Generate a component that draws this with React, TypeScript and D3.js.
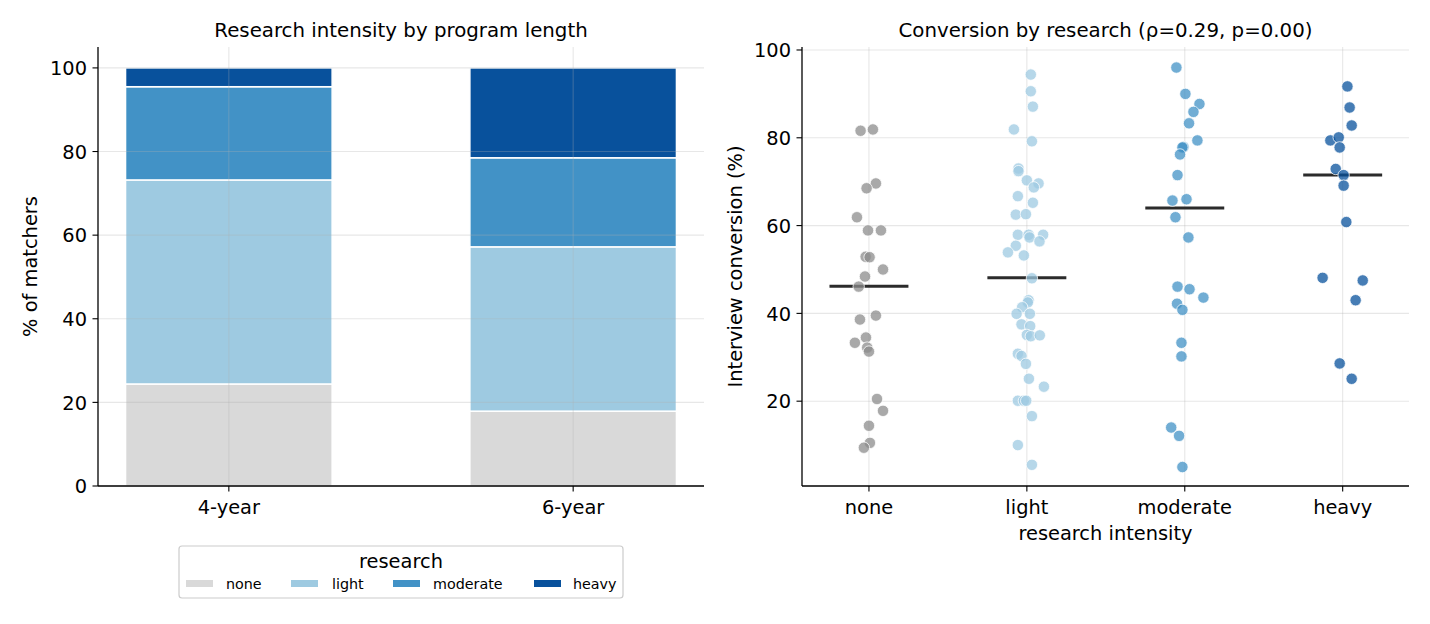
import React from "react";
import * as d3 from "d3";

const programs = ["4-year", "6-year"];
const levels = ["none", "light", "moderate", "heavy"];
const share4yr = [24.4, 48.8, 22.3, 4.5];
const share6yr = [17.9, 39.3, 21.3, 21.5];
const barColors = ["#d9d9d9", "#9ecae1", "#4292c6", "#08519c"];
const pointColors = ["#8c8c8c", "#9ecae1", "#4292c6", "#08519c"];

const noneConv = [81.6, 81.9, 69.6, 68.5, 61.9, 58.9, 58.9, 52.9, 52.8, 50.0, 48.4, 46.1, 39.5, 38.6, 34.5, 33.3, 32.2, 31.3, 20.5, 17.8, 14.4, 10.5, 9.4];
const noneJit = [-0.053, 0.025, 0.044, -0.015, -0.076, -0.006, 0.076, -0.021, 0.004, 0.089, -0.025, -0.065, 0.044, -0.057, -0.019, -0.089, -0.011, 0, 0.051, 0.089, 0, 0.006, -0.032];
const lightConv = [94.4, 90.6, 87.1, 81.9, 79.2, 73.0, 72.4, 70.3, 69.6, 68.7, 66.7, 65.2, 62.5, 62.6, 57.9, 57.9, 57.9, 57.3, 56.4, 55.4, 53.9, 53.2, 48.0, 43.0, 42.5, 41.4, 39.9, 39.9, 37.5, 37.1, 35.1, 34.8, 35.0, 30.8, 30.3, 28.5, 25.1, 23.3, 20.1, 20.1, 20.1, 16.6, 10.0, 5.5];
const lightJit = [0.025, 0.025, 0.038, -0.082, 0.032, -0.053, -0.053, 0, 0.074, 0.044, -0.057, 0.038, -0.07, -0.006, -0.057, 0.011, 0.103, 0.017, 0.08, -0.07, -0.12, -0.019, 0.032, 0.011, 0.006, -0.03, -0.065, 0.019, -0.034, 0.021, 0, 0.025, 0.082, -0.057, -0.034, -0.006, 0.013, 0.108, -0.057, -0.019, -0.004, 0.032, -0.057, 0.032];
const moderateConv = [96.0, 90.0, 87.7, 85.9, 83.3, 79.4, 77.9, 77.8, 76.2, 71.5, 66.0, 65.7, 61.9, 57.3, 46.1, 45.5, 43.6, 42.2, 40.8, 33.3, 30.2, 14.0, 12.1, 5.0];
const moderateJit = [-0.053, 0.004, 0.093, 0.055, 0.027, 0.08, -0.008, -0.015, -0.03, -0.046, 0.011, -0.078, -0.059, 0.023, -0.046, 0.03, 0.118, -0.049, -0.015, -0.021, -0.021, -0.086, -0.036, -0.015];
const heavyConv = [91.7, 86.9, 82.8, 79.4, 80.1, 77.8, 72.9, 71.5, 69.1, 60.8, 48.1, 47.5, 43.0, 28.6, 25.1];
const heavyJit = [0.03, 0.044, 0.057, -0.078, -0.025, -0.019, -0.044, 0.006, 0.006, 0.023, -0.127, 0.127, 0.082, -0.019, 0.057];
const medians = [46.2, 48.1, 64.0, 71.5];

const leftTicks = [0, 20, 40, 60, 80, 100];
const rightTicks = [20, 40, 60, 80, 100];

const FONT = "DejaVu Sans, sans-serif";
const TICK_FS = 19.4;
const TITLE_FS = 19.8;

export default function App() {
  const W = 1430, H = 624;
  const L = { x0: 98, x1: 704, y0: 47, y1: 486 };
  const R = { x0: 802, x1: 1409, y0: 47, y1: 486 };

  const lx = d3.scaleLinear().domain([-0.38, 1.38]).range([L.x0, L.x1]);
  const ly = d3.scaleLinear().domain([0, 105]).range([L.y1, L.y0]);
  const barW = lx(0.6) - lx(0);

  const table = programs.map((p, i) => {
    const row: any = { program: p };
    levels.forEach((lv, j) => (row[lv] = (i === 0 ? share4yr : share6yr)[j]));
    return row;
  });
  const stacked = d3.stack().keys(levels)(table as any);

  const rx = d3.scaleLinear().domain([-0.424, 3.42]).range([R.x0, R.x1]);
  const ry = d3.scaleLinear().domain([0.68, 100.68]).range([R.y1, R.y0]);

  const convs = [noneConv, lightConv, moderateConv, heavyConv];
  const jits = [noneJit, lightJit, moderateJit, heavyJit];

  const gridStroke = "#b0b0b0";
  const gridOp = 0.3;

  const legendX = 179, legendY = 546, legendW = 444, legendH = 52;
  const legendItems = [
    { px: 186, tx: 226 },
    { px: 291, tx: 332 },
    { px: 393, tx: 433 },
    { px: 534, tx: 573 },
  ];

  return (
    <svg width={W} height={H} style={{ position: "absolute", left: 0, top: 0, background: "#fff" }} fontFamily={FONT}>
      <rect x={0} y={0} width={W} height={H} fill="#fff" />
      {/* LEFT PANEL */}
      <text x={(L.x0 + L.x1) / 2} y={37} textAnchor="middle" fontSize={TITLE_FS} fill="#000">
        Research intensity by program length
      </text>
      {stacked.map((layer, li) => (
        <g key={levels[li]}>
          {layer.map((d, i) => (
            <rect
              key={i}
              x={lx(i) - barW / 2}
              y={ly(d[1])}
              width={barW}
              height={ly(d[0]) - ly(d[1])}
              fill={barColors[li]}
              stroke="#fff"
              strokeWidth={1.5}
            />
          ))}
        </g>
      ))}
      {leftTicks.map((t) => (
        <line key={"lg" + t} x1={L.x0} x2={L.x1} y1={ly(t)} y2={ly(t)} stroke={gridStroke} strokeOpacity={gridOp} strokeWidth={1.1} />
      ))}
      {programs.map((p, i) => (
        <line key={"lgx" + p} x1={lx(i)} x2={lx(i)} y1={L.y0} y2={L.y1} stroke={gridStroke} strokeOpacity={gridOp} strokeWidth={1.1} />
      ))}
      <line x1={L.x0} x2={L.x0} y1={L.y0} y2={L.y1} stroke="#000" strokeWidth={1.3} />
      <line x1={L.x0} x2={L.x1} y1={L.y1} y2={L.y1} stroke="#000" strokeWidth={1.3} />
      {leftTicks.map((t) => (
        <g key={"lt" + t}>
          <line x1={L.x0 - 5.5} x2={L.x0} y1={ly(t)} y2={ly(t)} stroke="#000" strokeWidth={1.1} />
          <text x={L.x0 - 11} y={ly(t) + 7.3} textAnchor="end" fontSize={TICK_FS} fill="#000">{t}</text>
        </g>
      ))}
      {programs.map((p, i) => (
        <g key={"lxt" + p}>
          <line x1={lx(i)} x2={lx(i)} y1={L.y1} y2={L.y1 + 5.5} stroke="#000" strokeWidth={1.1} />
          <text x={lx(i)} y={514} textAnchor="middle" fontSize={TICK_FS} fill="#000">{p}</text>
        </g>
      ))}
      <text transform={`translate(37,${(L.y0 + L.y1) / 2}) rotate(-90)`} textAnchor="middle" fontSize={TICK_FS} fill="#000">
        % of matchers
      </text>
      {/* Legend */}
      <rect x={legendX} y={legendY} width={legendW} height={legendH} rx={3} fill="#fff" stroke="#cccccc" strokeWidth={1.2} />
      <text x={legendX + legendW / 2} y={legendY + 22} textAnchor="middle" fontSize={TICK_FS} fill="#000">research</text>
      {levels.map((lv, i) => (
        <g key={"leg" + lv}>
          <rect x={legendItems[i].px} y={legendY + 34} width={27} height={7} fill={barColors[i]} />
          <text x={legendItems[i].tx} y={legendY + 43} fontSize={14.3} fill="#000">{lv}</text>
        </g>
      ))}

      {/* RIGHT PANEL */}
      <text x={(R.x0 + R.x1) / 2} y={37} textAnchor="middle" fontSize={TITLE_FS} fill="#000">
        Conversion by research (ρ=0.29, p=0.00)
      </text>
      {rightTicks.map((t) => (
        <line key={"rg" + t} x1={R.x0} x2={R.x1} y1={ry(t)} y2={ry(t)} stroke={gridStroke} strokeOpacity={gridOp} strokeWidth={1.1} />
      ))}
      {levels.map((lv, i) => (
        <line key={"rgx" + lv} x1={rx(i)} x2={rx(i)} y1={R.y0} y2={R.y1} stroke={gridStroke} strokeOpacity={gridOp} strokeWidth={1.1} />
      ))}
      {medians.map((m, i) => (
        <line key={"med" + i} x1={rx(i - 0.25)} x2={rx(i + 0.25)} y1={ry(m)} y2={ry(m)} stroke="#2b2b2b" strokeWidth={3} />
      ))}
      {convs.map((arr, ci) => (
        <g key={"pts" + ci}>
          {arr.map((v, k) => (
            <circle
              key={k}
              cx={rx(ci + jits[ci][k])}
              cy={ry(v)}
              r={5.7}
              fill={pointColors[ci]}
              fillOpacity={0.75}
              stroke="#fff"
              strokeOpacity={0.85}
              strokeWidth={0.9}
            />
          ))}
        </g>
      ))}
      <line x1={R.x0} x2={R.x0} y1={R.y0} y2={R.y1} stroke="#000" strokeWidth={1.3} />
      <line x1={R.x0} x2={R.x1} y1={R.y1} y2={R.y1} stroke="#000" strokeWidth={1.3} />
      {rightTicks.map((t) => (
        <g key={"rt" + t}>
          <line x1={R.x0 - 5.5} x2={R.x0} y1={ry(t)} y2={ry(t)} stroke="#000" strokeWidth={1.1} />
          <text x={R.x0 - 11} y={ry(t) + 7.3} textAnchor="end" fontSize={TICK_FS} fill="#000">{t}</text>
        </g>
      ))}
      {levels.map((lv, i) => (
        <g key={"rxt" + lv}>
          <line x1={rx(i)} x2={rx(i)} y1={R.y1} y2={R.y1 + 5.5} stroke="#000" strokeWidth={1.1} />
          <text x={rx(i)} y={514} textAnchor="middle" fontSize={TICK_FS} fill="#000">{lv}</text>
        </g>
      ))}
      <text x={(R.x0 + R.x1) / 2} y={539.5} textAnchor="middle" fontSize={TICK_FS} fill="#000">research intensity</text>
      <text transform={`translate(742,${(R.y0 + R.y1) / 2}) rotate(-90)`} textAnchor="middle" fontSize={TICK_FS} fill="#000">
        Interview conversion (%)
      </text>
    </svg>
  );
}
